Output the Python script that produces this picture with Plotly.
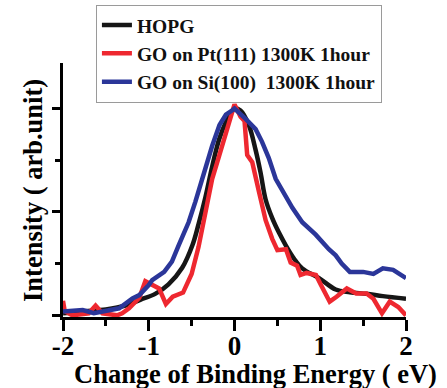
import plotly.graph_objects as go

# ---- data ----
series_names = ["HOPG", "GO on Pt(111) 1300K 1hour", "GO on Si(100)  1300K 1hour"]

hopg_x = [-2.0, -1.75, -1.5, -1.25, -1.1, -0.92, -0.77, -0.61, -0.49, -0.42, -0.34, -0.26,
          -0.18, -0.10, -0.03, 0.0, 0.07, 0.167, 0.246, 0.304, 0.363, 0.44, 0.518, 0.596,
          0.693, 0.79, 0.986, 1.18, 1.345, 1.54, 1.73, 2.0]
hopg_y = [0.01, 0.02, 0.028, 0.05, 0.075, 0.105, 0.15, 0.23, 0.34, 0.44, 0.57, 0.72,
          0.85, 0.935, 0.984, 1.0, 0.99, 0.92, 0.80, 0.69, 0.56, 0.47, 0.40, 0.34,
          0.275, 0.227, 0.18, 0.125, 0.112, 0.104, 0.093, 0.08]

pt_x = [-2.0, -1.98, -1.89, -1.70, -1.62, -1.54, -1.37, -1.31, -1.23, -1.11, -1.04, -0.95,
        -0.88, -0.80, -0.72, -0.60, -0.50, -0.42, -0.34, -0.26, -0.18, -0.10, -0.03, 0.0,
        0.07, 0.117, 0.148, 0.207, 0.284, 0.363, 0.44, 0.50, 0.60, 0.655, 0.73, 0.77,
        0.84, 0.95, 1.01, 1.11, 1.19, 1.31, 1.42, 1.54, 1.62, 1.72, 1.81, 1.91, 2.0]
pt_y = [0.07, 0.02, 0.0, 0.01, 0.047, 0.01, 0.0, 0.01, 0.034, 0.085, 0.165, 0.145,
        0.13, 0.055, 0.09, 0.11, 0.2, 0.33, 0.5, 0.66, 0.77, 0.89, 0.98, 1.02,
        0.96, 0.94, 0.775, 0.74, 0.60, 0.46, 0.37, 0.315, 0.32, 0.255, 0.24, 0.195,
        0.205, 0.195, 0.146, 0.066, 0.09, 0.13, 0.106, 0.106, 0.08, 0.01, 0.066, 0.04, 0.0]

si_x = [-2.0, -1.77, -1.64, -1.50, -1.345, -1.19, -1.11, -1.0, -0.96, -0.82, -0.73, -0.65,
        -0.535, -0.456, -0.378, -0.26, -0.175, -0.10, -0.03, 0.0, 0.13, 0.246, 0.32, 0.40,
        0.48, 0.56, 0.675, 0.79, 0.947, 1.10, 1.18, 1.25, 1.345, 1.50, 1.62, 1.73, 1.85, 2.0]
si_y = [0.018, 0.026, 0.01, 0.02, 0.034, 0.082, 0.098, 0.146, 0.17, 0.21, 0.26, 0.34,
        0.45, 0.55, 0.66, 0.82, 0.92, 0.97, 0.99, 1.0, 0.95, 0.90, 0.84, 0.76,
        0.66, 0.60, 0.52, 0.45, 0.39, 0.32, 0.29, 0.25, 0.21, 0.21, 0.20, 0.227, 0.22, 0.18]

x_tick_vals = [-2, -1, 0, 1, 2]
x_tick_text = ["-2", "-1", "0", "1", "2"]
y_tick_vals = [0, 0.5, 1.0]

colors = ["#161616", "#EE2830", "#2B3699"]
FONT = "Liberation Serif"

fig = go.Figure()
for name, xs, ys, c, shape in [
    (series_names[0], hopg_x, hopg_y, colors[0], "spline"),
    (series_names[1], pt_x, pt_y, colors[1], "linear"),
    (series_names[2], si_x, si_y, colors[2], "linear"),
]:
    fig.add_trace(go.Scatter(x=xs, y=ys, mode="lines", name=name,
                             line=dict(color=c, width=4.5, shape=shape)))

fig.update_layout(
    width=447, height=388,
    margin=dict(l=63, r=41, t=63, b=71, autoexpand=False),
    paper_bgcolor="white", plot_bgcolor="white",
    font=dict(family=FONT, size=26, color="black", weight="bold"),
    showlegend=True,
    legend=dict(x=0.096, y=1.229, xanchor="left", yanchor="top",
                bgcolor="white", bordercolor="#9a9a9a", borderwidth=1,
                font=dict(family=FONT, size=19.5, color="#111", weight="bold"),
                tracegroupgap=0),
)
fig.update_xaxes(
    range=[-2, 2], showgrid=False, zeroline=False,
    showline=True, linecolor="black", linewidth=3,
    tickmode="array", tickvals=x_tick_vals, ticktext=x_tick_text,
    ticks="outside", ticklen=11, tickwidth=3, tickcolor="black",
    ticklabelstandoff=-8,
    minor=dict(dtick=0.5, ticks="outside", ticklen=6, tickwidth=3, tickcolor="black"),
    tickfont=dict(family=FONT, size=27, color="black", weight="bold"),
)
fig.update_yaxes(
    range=[-0.008, 1.22], showgrid=False, zeroline=False,
    showline=True, linecolor="black", linewidth=3,
    tickmode="array", tickvals=y_tick_vals, showticklabels=False,
    ticks="outside", ticklen=8, tickwidth=3, tickcolor="black",
    minor=dict(tickvals=[0.25, 0.75], ticks="outside", ticklen=5, tickwidth=3, tickcolor="black"),
)
fig.add_annotation(text="Change of Binding Energy ( eV)", xref="paper", yref="paper",
                   x=0.562, y=-0.226, xanchor="center", yanchor="middle", showarrow=False,
                   font=dict(family=FONT, size=26.5, color="black", weight="bold"))
fig.add_annotation(text="Intensity ( arb.unit)", xref="paper", yref="paper",
                   x=-0.0875, y=0.5, xanchor="center", yanchor="middle", showarrow=False,
                   textangle=-90,
                   font=dict(family=FONT, size=26.5, color="black", weight="bold"))

fig.write_html("out.html")
